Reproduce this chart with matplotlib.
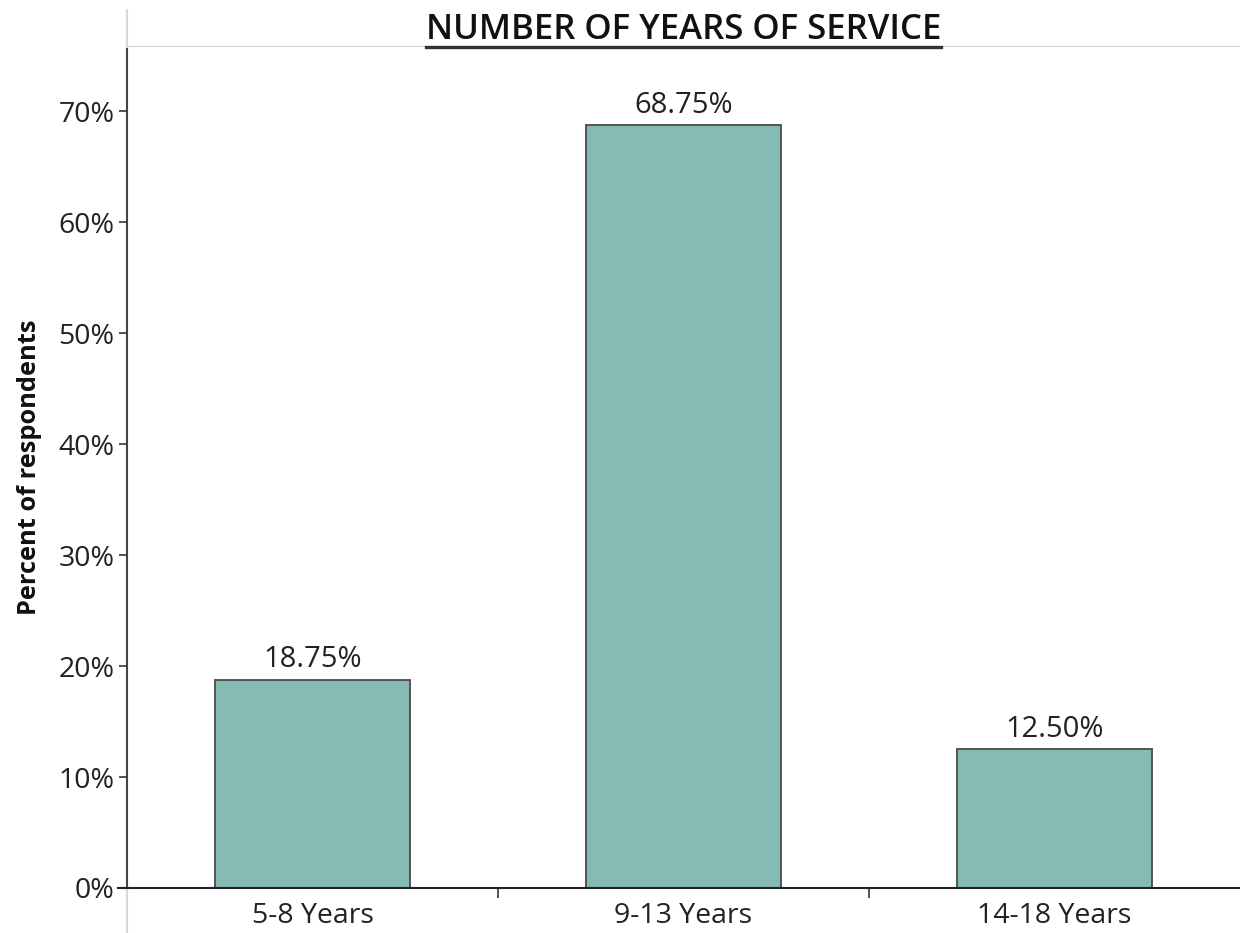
import numpy as np
import matplotlib
matplotlib.use("Agg")
import matplotlib.pyplot as plt
from matplotlib.lines import Line2D

categories = ["5-8 Years", "9-13 Years", "14-18 Years"]
percents = [18.75, 68.75, 12.50]
yticks = [0, 10, 20, 30, 40, 50, 60, 70]

plt.rcParams["font.family"] = ["Open Sans", "DejaVu Sans"]

fig = plt.figure(figsize=(12.4, 9.33), dpi=100)
ax = fig.add_axes([127 / 1240, 45 / 933, 1 - 127 / 1240, (888 - 47) / 933])

x = np.arange(len(categories))
ax.bar(x, percents, width=0.525, color="#86bab4", edgecolor="#4a4a4a", linewidth=1.3, zorder=2)
for xi, v in zip(x, percents):
    ax.annotate(f"{v:.2f}%", (xi, v), xytext=(0, 9), textcoords="offset points",
                ha="center", va="baseline", fontsize=21, color="#222222")

ax.set_xlim(-0.5, 2.5)
ax.set_ylim(0, 75.8)
ax.set_yticks(yticks)
ax.set_yticklabels([f"{t}%" for t in yticks], fontsize=20.5, color="#222222")
ax.set_xticks(x)
ax.set_xticklabels(categories, fontsize=20.5, color="#222222")
ax.tick_params(axis="x", length=0, pad=10)
ax.set_xticks([0.5, 1.5], minor=True)
ax.tick_params(axis="x", which="minor", length=7, width=1.2, color="#333333", direction="out")
ax.tick_params(axis="y", length=6, width=1.2, color="#333333", pad=3)

for s in ["top", "right"]:
    ax.spines[s].set_visible(False)
ax.spines["left"].set_color("#444444")
ax.spines["left"].set_linewidth(1.5)
ax.spines["bottom"].set_color("#222222")
ax.spines["bottom"].set_linewidth(1.5)

ax.set_ylabel("Percent of respondents", fontsize=18.3, fontweight="bold", color="#111111", labelpad=12)

title = ax.set_title("NUMBER OF YEARS OF SERVICE", fontsize=25, fontweight="semibold",
                     color="#111111", pad=-1.5)

# light frame lines (Tableau style)
top_y = 1 - 47 / 933
fig.add_artist(Line2D([127 / 1240, 1], [top_y, top_y], color="#d0d0d0", lw=1.5, zorder=0))
fig.add_artist(Line2D([127 / 1240, 127 / 1240], [top_y, 1 - 10 / 933], color="#d8d8d8", lw=1.5))
fig.add_artist(Line2D([127 / 1240, 127 / 1240], [0, 45 / 933], color="#d8d8d8", lw=1.5))
fig.add_artist(Line2D([118 / 1240, 127 / 1240], [45 / 933, 45 / 933], color="#222222", lw=1.5))

# underline title
fig.canvas.draw()
bb = title.get_window_extent().transformed(fig.transFigure.inverted())
fig.add_artist(Line2D([bb.x0, bb.x1], [top_y, top_y], color="#333333", lw=2.4))

fig.savefig("out.png", dpi=100)
